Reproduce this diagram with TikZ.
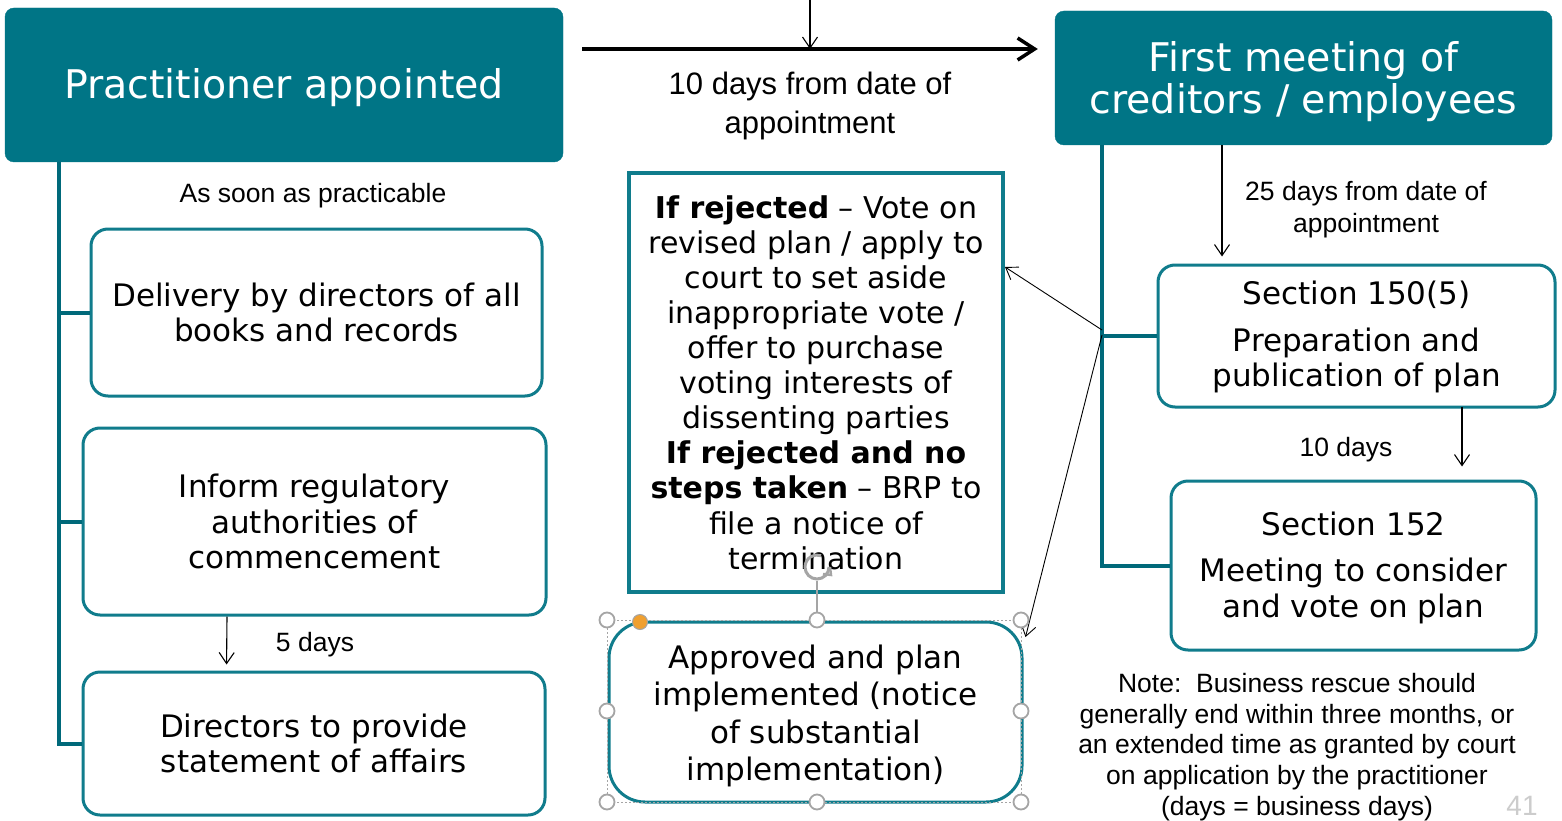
\documentclass[tikz,border=0pt]{standalone}
\usepackage{fontspec}
\setmainfont{DejaVu Sans}
\newfontfamily\arialf{Liberation Sans}
\usetikzlibrary{arrows.meta}
\definecolor{teal1}{RGB}{0,117,134}
\definecolor{tealb}{RGB}{16,124,140}
\definecolor{treec}{RGB}{0,105,122}
\definecolor{hgray}{RGB}{165,165,165}
\definecolor{horange}{RGB}{240,160,48}
\begin{document}
\begin{tikzpicture}[x=1pt,y=-1pt,
 head/.style={fill=teal1, draw=teal1, rounded corners=9pt, inner sep=0pt},
 headtxt/.style={text=white, align=center, inner sep=0pt, font=\fontsize{39.5}{42}\selectfont},
 box/.style={draw=tealb, line width=3pt, rounded corners=17pt, fill=white, align=center, inner sep=0pt, font=\fontsize{31}{35.5}\selectfont},
 boxtxt/.style={align=center, inner sep=0pt, font=\fontsize{31}{37.3}\selectfont},
 lbl/.style={font=\arialf\fontsize{26.5}{32}\selectfont, align=center, inner sep=0pt},
 tree/.style={draw=treec, line width=4pt},
 arr/.style={-{Straight Barb[length=11pt,width=15pt]}, line width=1.1pt},
 bigarr/.style={-{Straight Barb[length=17pt,width=22pt]}, line width=3.5pt},
 handle/.style={circle, draw=hgray, fill=white, line width=1.8pt, minimum size=15pt, inner sep=0pt},
]
\clip (0,0) rectangle (1562,821);
\fill[white] (0,0) rectangle (1562,821);

% header boxes
\node[head, minimum width=558pt, minimum height=154pt] (pa) at (284,85) {};
\node[headtxt] (patxt) at ([yshift=-3pt]pa.center) {Practitioner appointed};
\node[head, minimum width=497pt, minimum height=134pt] (fm) at (1303.5,78) {};
\node[headtxt] (fmtxt) at ([yshift=-3.5pt]fm.center) {First meeting of\\creditors / employees};

% left column boxes
\node[box, minimum width=451pt, minimum height=167pt] (b1) at (316.5,312.5) {Delivery by directors of all\\books and records};
\node[box, minimum width=463pt, minimum height=187pt] (b2) at (314.5,521.5) {Inform regulatory\\authorities of\\commencement};
\node[box, minimum width=462pt, minimum height=143pt] (b3) at (314,743.5) {Directors to provide\\statement of affairs};

% middle boxes
\node[box, rounded corners=0pt, line width=4pt, minimum width=374pt, minimum height=419pt, font=\fontsize{30}{35.1}\selectfont] (rej) at (816,382.5)
 {\textbf{If rejected} -- Vote on\\revised plan / apply to\\court to set aside\\inappropriate vote /\\offer to purchase\\voting interests of\\dissenting parties\\\textbf{If rejected and no}\\\textbf{steps taken} -- BRP to\\file a notice of\\termination};
\node[box, rounded corners=36pt, minimum width=413pt, minimum height=180pt] (apr) at (815.5,712) {};
\node[boxtxt] (aprtxt) at ([yshift=-4pt]apr.center) {Approved and plan\\implemented (notice\\of substantial\\implementation)};

% right boxes
\node[box, minimum width=397pt, minimum height=142pt] (s150) at (1356.5,336) {};
\node[boxtxt, font=\fontsize{31}{35.5}\selectfont] (s150txt) at ([yshift=-1pt]s150.center) {Section 150(5)\\[11pt]Preparation and\\publication of plan};
\node[box, minimum width=365pt, minimum height=169pt] (s152) at (1353.5,565.5) {};
\node[boxtxt, font=\fontsize{31}{35.5}\selectfont] (s152txt) at ([yshift=-2pt]s152.center) {Section 152\\[11pt]Meeting to consider\\and vote on plan};

% tree lines
\coordinate (L) at (59,162);
\draw[tree] (L) |- (b1.west);
\draw[tree] (L) |- (b2.west);
\draw[tree] (L) |- (b3.west);
\coordinate (R) at (1102,145);
\draw[tree] (R) |- (s150.west);
\draw[tree] (R) |- (s152.west);

% main arrow
\draw[bigarr] ([xshift=19pt,yshift=36pt]pa.east) -- ([xshift=-17pt,yshift=29pt]fm.west);
\coordinate (topin) at (810,0);
\coordinate (topout) at (810,49);
\draw[arr] (topin) -- (topout);

% labels
\node[lbl, font=\arialf\fontsize{31}{39}\selectfont] (l10) at (810,106) {10 days from date of\\appointment};
\node[lbl] (lasp) at (313,196) {As soon as practicable};
\node[lbl] (l25) at (1366,210) {25 days from date of\\appointment};
\node[lbl] (l5) at (315,645) {5 days};
\node[lbl] (l10b) at (1346,450) {10 days};
\node[lbl, font=\arialf\fontsize{26.5}{30.8}\selectfont] (note) at (1297,747) {Note:\ \ Business rescue should\\generally end within three months, or\\an extended time as granted by court\\on application by the practitioner\\(days = business days)};
\node[lbl, text=gray!40, font=\arialf\fontsize{28}{32}\selectfont] (pg) at (1522,806) {41};

% timing arrows
\draw[arr, shorten >=6pt] ([xshift=-87.5pt]b2.south) -- ([xshift=-87.5pt]b3.north);
\draw[arr, shorten >=7pt] ([xshift=-81.5pt]fm.south) -- ([xshift=-134.5pt]s150.north);
\draw[arr, shorten >=13pt] ([xshift=105.5pt,yshift=2pt]s150.south) -- ([xshift=108.5pt]s152.north);

% outcome arrows
\coordinate (J) at (1102,330);
\draw[arr, line width=0.9pt] (J) -- ([yshift=115.5pt]rej.east);
\coordinate (J2) at (1102,335);
\draw[arr, line width=0.9pt] (J2) -- ([xshift=2pt,yshift=75pt]apr.east);

% selection handles (as shown in the screenshot)
\draw[hgray, line width=0.8pt, dash pattern=on 2pt off 2pt] (607,620) rectangle (1021,802);
\draw[hgray, line width=1.5pt] (817,581) -- (817,613);
\draw[hgray, line width=3pt] (829,567) arc[start angle=0, end angle=-290, radius=12pt];
\draw[hgray, line width=2.4pt] (823,574) -- (831,575) -- (830,567);
\foreach \p in {(607,620),(817,620),(1021,620),(607,711),(1021,711),(607,802),(817,802),(1021,802)}
  \node[handle] at \p {};
\node[circle, fill=horange, draw=hgray, line width=1pt, minimum size=15pt, inner sep=0pt] at (640,622) {};
\end{tikzpicture}
\end{document}
